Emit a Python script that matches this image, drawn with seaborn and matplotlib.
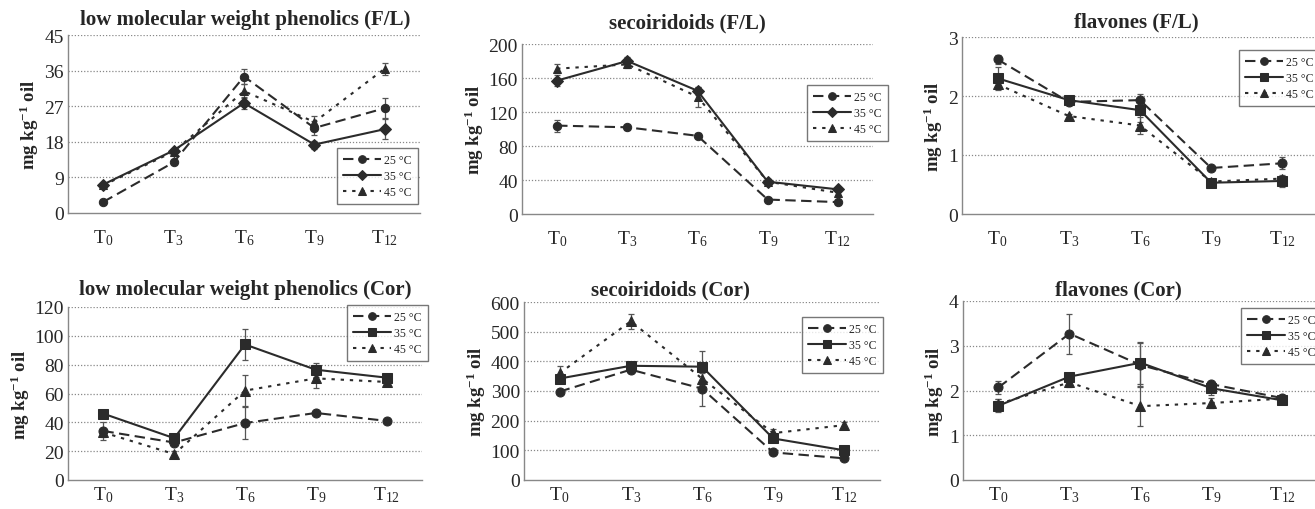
import numpy as np
import pandas as pd
import matplotlib
matplotlib.use("Agg")
import matplotlib.pyplot as plt
import seaborn as sns

# ---------------- data ----------------
times = ["T$_{0}$", "T$_{3}$", "T$_{6}$", "T$_{9}$", "T$_{12}$"]
temps = ["25 °C", "35 °C", "45 °C"]

titles = [
    "low molecular weight phenolics (F/L)",
    "secoiridoids (F/L)",
    "flavones (F/L)",
    "low molecular weight phenolics (Cor)",
    "secoiridoids (Cor)",
    "flavones (Cor)",
]

# panel 1: LMW phenolics F/L
lmw_fl_25 = [2.8, 12.8, 34.5, 21.5, 26.5]
lmw_fl_35 = [7.2, 15.8, 27.8, 17.3, 21.2]
lmw_fl_45 = [7.0, 15.5, 30.8, 23.0, 36.5]
lmw_fl_err_25 = [0.3, 0.5, 2.0, 1.8, 2.5]
lmw_fl_err_35 = [0.4, 0.5, 1.5, 1.0, 2.5]
lmw_fl_err_45 = [0.3, 0.5, 1.8, 1.5, 1.5]

# panel 2: secoiridoids F/L
sec_fl_25 = [104, 102, 92, 17, 14]
sec_fl_35 = [157, 180, 145, 38, 29]
sec_fl_45 = [171, 176, 138, 38, 25]
sec_fl_err_25 = [7, 3, 3, 2, 2]
sec_fl_err_35 = [6, 5, 5, 3, 2]
sec_fl_err_45 = [5, 4, 12, 3, 3]

# panel 3: flavones F/L
fla_fl_25 = [2.62, 1.90, 1.93, 0.78, 0.86]
fla_fl_35 = [2.30, 1.93, 1.76, 0.53, 0.56]
fla_fl_45 = [2.20, 1.66, 1.50, 0.55, 0.60]
fla_fl_err_25 = [0.08, 0.03, 0.10, 0.03, 0.10]
fla_fl_err_35 = [0.20, 0.03, 0.20, 0.03, 0.10]
fla_fl_err_45 = [0.08, 0.03, 0.15, 0.03, 0.05]

# panel 4: LMW phenolics Cor
lmw_cor_25 = [34, 26, 39.5, 46.5, 41]
lmw_cor_35 = [46, 29, 94, 76.5, 71]
lmw_cor_45 = [33, 18, 62, 70.5, 68]
lmw_cor_err_25 = [6, 2, 11, 1.5, 2]
lmw_cor_err_35 = [2, 2, 11, 5, 2]
lmw_cor_err_45 = [3, 2, 11, 7, 2]

# panel 5: secoiridoids Cor
sec_cor_25 = [298, 372, 308, 93, 73]
sec_cor_35 = [342, 385, 382, 140, 100]
sec_cor_45 = [360, 535, 342, 158, 185]
sec_cor_err_25 = [8, 10, 60, 8, 6]
sec_cor_err_35 = [15, 10, 52, 12, 8]
sec_cor_err_45 = [25, 25, 20, 15, 10]

# panel 6: flavones Cor
fla_cor_25 = [2.07, 3.27, 2.57, 2.14, 1.83]
fla_cor_35 = [1.66, 2.31, 2.62, 2.05, 1.78]
fla_cor_45 = [1.70, 2.18, 1.65, 1.72, 1.82]
fla_cor_err_25 = [0.15, 0.45, 0.50, 0.05, 0.05]
fla_cor_err_35 = [0.15, 0.08, 0.47, 0.15, 0.05]
fla_cor_err_45 = [0.10, 0.10, 0.45, 0.12, 0.05]

panel_values = [
    (lmw_fl_25, lmw_fl_35, lmw_fl_45),
    (sec_fl_25, sec_fl_35, sec_fl_45),
    (fla_fl_25, fla_fl_35, fla_fl_45),
    (lmw_cor_25, lmw_cor_35, lmw_cor_45),
    (sec_cor_25, sec_cor_35, sec_cor_45),
    (fla_cor_25, fla_cor_35, fla_cor_45),
]
panel_errors = [
    (lmw_fl_err_25, lmw_fl_err_35, lmw_fl_err_45),
    (sec_fl_err_25, sec_fl_err_35, sec_fl_err_45),
    (fla_fl_err_25, fla_fl_err_35, fla_fl_err_45),
    (lmw_cor_err_25, lmw_cor_err_35, lmw_cor_err_45),
    (sec_cor_err_25, sec_cor_err_35, sec_cor_err_45),
    (fla_cor_err_25, fla_cor_err_35, fla_cor_err_45),
]
y_max = [45, 200, 3, 120, 600, 4]
y_step = [9, 40, 1, 20, 100, 1]

# ---------------- style ----------------
sns.set_theme(style="white")
plt.rcParams["font.family"] = ["Liberation Serif", "DejaVu Serif"]
plt.rcParams["mathtext.fontset"] = "custom"
plt.rcParams["mathtext.rm"] = "Liberation Serif"
plt.rcParams["mathtext.it"] = "Liberation Serif:italic"
plt.rcParams["mathtext.bf"] = "Liberation Serif:bold"

W, H = 1315, 510
fig = plt.figure(figsize=(W / 100, H / 100), dpi=100)

def fx(px):
    return px / W

def fy(py):
    return 1 - py / H

# axes boxes in pixels: left, top, right, bottom
boxes = [
    (68, 36, 420, 214),
    (522, 45, 873, 215),
    (962, 38, 1318, 215),
    (68, 308, 422, 481),
    (524, 303, 880, 481),
    (963, 302, 1318, 481),
]
legend_pos = [(337, 149), (807, 86), (1239, 51), (347, 306), (802, 318), (1241, 309)]
title_y = [20, 23, 22, 290, 290, 290]
title_x = [245, 687, 1136, 245, 670, 1118]
xpad = [10, 10, 10, 3, 3, 3]

col = "#2b2b2b"
palette = {t: col for t in temps}
dash_map = {"25 °C": (5.0, 2.6), "35 °C": "", "45 °C": (1.6, 2.8)}

xpos = np.arange(len(times))

for i in range(6):
    l, t, r, b = boxes[i]
    ax = fig.add_axes([fx(l), fy(b), fx(r - l), (b - t) / H])
    marker_map = {"25 °C": "o", "35 °C": "D" if i < 2 else "s", "45 °C": "^"}

    df = pd.DataFrame({
        "x": np.tile(xpos, 3),
        "v": np.concatenate(panel_values[i]),
        "e": np.concatenate(panel_errors[i]),
        "temp": np.repeat(temps, len(xpos)),
    })

    for k, tp in enumerate(temps):
        sub = df[df["temp"] == tp]
        ax.errorbar(sub["x"], sub["v"], yerr=sub["e"], fmt="none", ecolor="#555555",
                    elinewidth=0.9, capsize=2.5, capthick=0.9, zorder=2)

    sns.lineplot(data=df, x="x", y="v", hue="temp", style="temp",
                 palette=palette, dashes=dash_map, markers=marker_map,
                 markersize=6.5 if i >= 2 else 6, markeredgecolor=col,
                 linewidth=1.5, ax=ax, zorder=3, legend="full")

    ax.set_xlim(-0.5, 4.5)
    ax.set_ylim(0, y_max[i])
    yt = np.arange(0, y_max[i] + y_step[i] / 2, y_step[i])
    ax.set_yticks(yt)
    ax.set_yticklabels([f"{v:g}" for v in yt], fontsize=14)
    ax.set_xticks(xpos)
    ax.set_xticklabels(times, fontsize=14)
    ax.set_xticks(np.arange(-0.5, 5, 1), minor=True)
    ax.tick_params(axis="x", which="major", length=0, pad=xpad[i])
    ax.tick_params(axis="x", which="minor", length=4, color="#888888", direction="out")
    ax.tick_params(axis="y", length=0, pad=3)
    for v in yt[1:]:
        ax.axhline(v, color="#888888", linestyle=(0, (1, 1.5)), linewidth=0.9, zorder=0)
    for s in ["top", "right"]:
        ax.spines[s].set_visible(False)
    for s in ["left", "bottom"]:
        ax.spines[s].set_color("#888888")
        ax.spines[s].set_linewidth(1.0)
    ax.set_xlabel("")
    ax.set_ylabel("mg kg$^{\\mathbf{-1}}$ oil", fontsize=13.5, fontweight="bold", labelpad=2)

    handles, labels = ax.get_legend_handles_labels()
    if ax.legend_ is not None:
        ax.legend_.remove()
    for h in handles:
        h.set_markersize(5.5)
    lx, ly = legend_pos[i]
    leg = fig.legend(handles, labels, loc="upper left",
                     bbox_to_anchor=(fx(lx), fy(ly)), bbox_transform=fig.transFigure,
                     fontsize=8.5, frameon=True, fancybox=False, borderpad=0.5,
                     handlelength=3.2, handletextpad=0.3, labelspacing=0.35,
                     borderaxespad=0)
    leg.get_frame().set_edgecolor("#555555")
    leg.get_frame().set_linewidth(1.0)

    fig.text(fx(title_x[i]), fy(title_y[i]), titles[i], ha="center", va="center",
             fontsize=15, fontweight="bold")

fig.savefig("out.png", dpi=100)
